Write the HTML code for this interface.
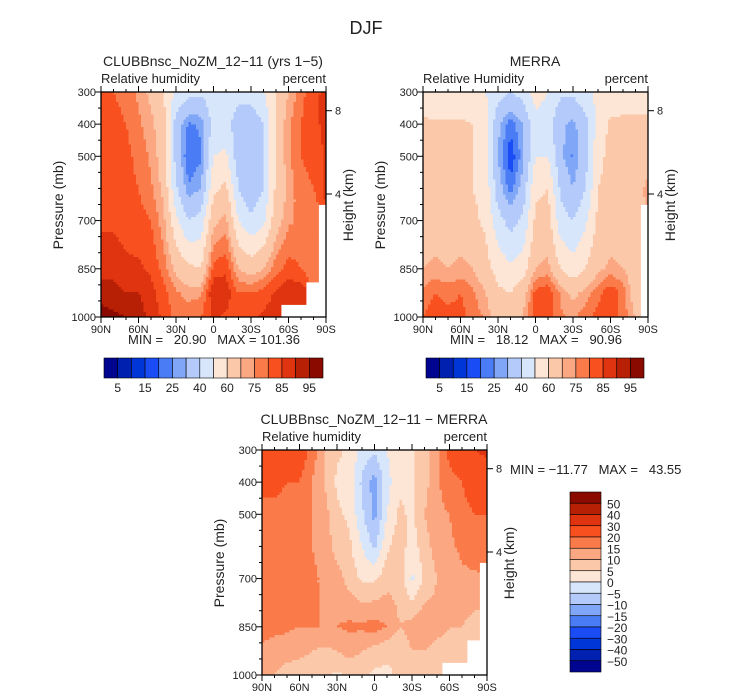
<!DOCTYPE html>
<html><head><meta charset="utf-8">
<style>
html,body{margin:0;padding:0;background:#fff;}
svg{display:block;font-family:"Liberation Sans",sans-serif;fill:#222;}
text{fill:#222;white-space:pre;}
</style></head>
<body>
<svg id="fig" width="733" height="699" viewBox="0 0 733 699">
<text x="366" y="34" font-size="18" text-anchor="middle">DJF</text>
</svg>
<script>
const lats = [90,80,70,60,50,40,30,20,10,0,-10,-20,-30,-40,-50,-60,-70,-80,-90];
const levels = [300,400,500,600,700,850,925,1000];
const pTicks = [300,400,500,700,850,1000];
const latTicks = [90,60,30,0,-30,-60,-90];
const latTickLabels = ['90N','60N','30N','0','30S','60S','90S'];
const N = null;
const clubbRH = [
[82,83,84,83,84,88,93,97],[80,82,83,83,84,88,92,96],[78,80,82,82,83,86,90,95],[74,76,78,80,82,86,90,93],
[68,72,74,76,80,84,87,88],[60,64,66,68,72,78,82,84],[48,36,36,42,52,68,76,78],[44,24,20,26,40,62,73,78],
[42,26,24,30,44,60,74,80],[46,44,50,58,68,82,90,86],[45,44,52,62,72,84,88,84],[44,34,34,40,50,70,80,82],
[46,32,30,32,42,66,80,84],[50,40,38,40,48,70,82,86],[60,62,62,62,66,78,86,88],[70,74,74,72,74,82,90,N],
[78,80,80,78,76,80,88,N],[84,84,82,80,76,76,N,N],[86,86,86,86,N,N,N,N]];
const merraRH = [
[52,62,62,62,64,70,76,80],[50,62,63,63,64,72,80,84],[50,62,63,63,64,70,78,82],[50,62,62,62,64,72,80,82],
[50,60,60,60,62,70,76,78],[50,55,56,57,58,64,70,74],[45,32,30,34,44,56,62,64],[40,22,16,22,36,52,60,64],
[44,30,28,34,42,55,66,70],[55,46,50,58,62,70,82,84],[50,44,50,60,64,72,84,84],[42,32,32,38,44,60,74,76],
[42,28,24,30,40,54,68,74],[48,36,36,40,48,60,72,78],[52,54,58,60,62,68,78,82],[52,62,62,62,64,72,84,84],
[52,63,64,64,65,70,78,78],[50,64,66,66,68,66,64,70],[50,65,66,72,N,N,N,N]];
const diffRH = [
[26,22,18,18,18,17,14,12],[26,22,18,18,17,17,12,10],[25,20,17,17,17,16,12,8],[24,20,18,18,17,15,11,8],
[18,15,15,15,16,15,10,8],[10,10,12,13,14,15,9,6],[6,4,6,8,12,15,10,4],[4,3,4,6,8,16,12,6],
[-2,-6,-4,0,4,16,10,6],[-4,-12,-12,-6,4,17,8,4],[0,-2,0,4,8,15,6,4],[4,4,6,8,8,10,6,6],
[4,4,4,2,-1,12,10,8],[8,8,10,8,6,14,10,8],[14,14,14,12,10,12,8,6],[22,18,15,14,12,10,8,N],
[26,20,18,16,14,10,6,N],[30,24,20,18,14,8,N,N],[32,24,20,18,N,N,N,N]];
const rhLevels = [5,10,15,20,25,30,40,50,60,70,75,80,85,90,95];
const rhLabels = ['5','15','25','40','60','75','85','95'];
const diffLevels = [-50,-40,-30,-20,-15,-10,-5,0,5,10,15,20,30,40,50];
const diffLabels = ['50','40','30','20','15','10','5','0','\u22125','\u221210','\u221215','\u221220','\u221230','\u221240','\u221250'];
const colors = ['#00058f','#0020b0','#0036d8','#1a4cf5','#4a7cf5','#80a6f7','#b3cafa','#d8e6fb','#fde6d6','#fcc8aa','#fba782','#fa7a4a','#f8501e','#e03410','#b82005','#8a0a00'];

const NS='http://www.w3.org/2000/svg';
const svg=document.getElementById('fig');
function el(tag,attrs,parent){const e=document.createElementNS(NS,tag);for(const k in attrs)e.setAttribute(k,attrs[k]);(parent||svg).appendChild(e);return e;}
function txt(x,y,s,size,anchor,parent,rot){const t=el('text',{x:x,y:y,'font-size':size,'text-anchor':anchor||'start'},parent);if(rot)t.setAttribute('transform','rotate(-90 '+x+' '+y+')');t.textContent=s;return t;}
function colorIdx(v,lv){let i=0;while(i<lv.length&&v>=lv[i])i++;return i;}

function panel(cfg){
  const W=225,H=225,x0=cfg.x,y0=cfg.y;
  const g=el('g',{});
  
  
  const xS=lat=>x0+(90-lat)/180*W;
  const yS=p=>y0+(p-300)/700*H;
  const st=2.5, n=Math.round(W/st);
  const data=cfg.data;
  function val(lat,p){
    let i=0;while(i<lats.length-2&&lats[i+1]>lat)i++;
    let j=0;while(j<levels.length-2&&levels[j+1]<p)j++;
    const ti=(lats[i]-lat)/(lats[i]-lats[i+1]);
    const tj=(p-levels[j])/(levels[j+1]-levels[j]);
    const nI=ti<0.5?i:i+1,nJ=tj<0.5?j:j+1;
    if(data[nI][nJ]===null)return null;
    let s=0,w=0;
    [[i,j,(1-ti)*(1-tj)],[i+1,j,ti*(1-tj)],[i,j+1,(1-ti)*tj],[i+1,j+1,ti*tj]].forEach(c=>{const v=data[c[0]][c[1]];if(v!==null){s+=v*c[2];w+=c[2];}});
    return w>0?s/w:null;
  }
  const cg=el('g',{},g);
  
  
  for(let r=0;r<n;r++){
    const p=300+(r+0.5)*st/H*700;
    let run=null,start=0;
    for(let c=0;c<=n;c++){
      let ci=-1;
      if(c<n){const lat=90-(c+0.5)*st/W*180;const v=val(lat,p);ci=v===null?-1:colorIdx(v,cfg.lv);}
      if(c===n||ci!==run){
        if(run!==null&&run>=0){const rc=el('rect',{x:x0+start*st,y:y0+r*st,width:(c-start)*st+0.4,height:st+0.4,fill:colors[run]},cg);
          }
        run=ci;start=c;
      }
    }
  }
  const fr=el('rect',{x:x0,y:y0,width:W,height:H,fill:'none',stroke:'#000','stroke-width':1.3},g);
  
  pTicks.forEach(p=>{el('line',{x1:x0-6,x2:x0,y1:yS(p),y2:yS(p),stroke:'#000'},g);
    const t=txt(x0-5,yS(p)+4,String(p),11,'end',g);});
  for(let p=350;p<1000;p+=50){if(pTicks.indexOf(p)<0)el('line',{x1:x0-3,x2:x0,y1:yS(p),y2:yS(p),stroke:'#000'},g);}
  latTicks.forEach((l,k)=>{el('line',{x1:xS(l),x2:xS(l),y1:y0+H,y2:y0+H+6,stroke:'#000'},g);
    el('line',{x1:xS(l),x2:xS(l),y1:y0,y2:y0-6,stroke:'#000'},g);
    const t=txt(xS(l),y0+H+16,latTickLabels[k],11,'middle',g);});
  for(let l=80;l>-90;l-=10){if(l%30){el('line',{x1:xS(l),x2:xS(l),y1:y0+H,y2:y0+H+3,stroke:'#000'},g);el('line',{x1:xS(l),x2:xS(l),y1:y0,y2:y0-3,stroke:'#000'},g);}}
  [[8,18.7],[4,102]].forEach(h=>{el('line',{x1:x0+W,x2:x0+W+6,y1:y0+h[1],y2:y0+h[1],stroke:'#000'},g);
    const t=txt(x0+W+9,y0+h[1]+4,String(h[0]),11,'start',g);});
  let t;
  t=txt(x0+112,y0-26,cfg.title,14,'middle',g);
  t=txt(x0,y0-9,cfg.sub,13,'start',g);
  t=txt(x0+W,y0-9,'percent',13,'end',g);
  t=txt(x0-38,y0+113,'Pressure (mb)',14,'middle',g,true);
  t=txt(x0+W+27,y0+113,'Height (km)',14,'middle',g,true);
  return g;
}

function hbar(x0,y0,w,h,nm){
  const g=el('g',{});
  const bw=w/16;
  colors.forEach((c,i)=>{const r=el('rect',{x:x0+i*bw,y:y0,width:bw,height:h,fill:c,stroke:'#000','stroke-width':0.6},g);
    });
  rhLabels.forEach((s,k)=>{const t=txt(x0+(2*k+1)*bw,y0+h+14,s,12,'middle',g);});
}
function vbar(x0,y0,w,h,nm){
  const g=el('g',{});
  const bh=h/16;
  colors.slice().reverse().forEach((c,i)=>{const r=el('rect',{x:x0,y:y0+i*bh,width:w,height:bh,fill:c,stroke:'#000','stroke-width':0.6},g);
    });
  diffLabels.forEach((s,k)=>{const t=txt(x0+w+6,y0+(k+1)*bh+5,s,12,'start',g);});
}

panel({x:101,y:92,data:clubbRH,lv:rhLevels,name:'model-panel',title:'CLUBBnsc_NoZM_12\u221211 (yrs 1\u22125)',sub:'Relative humidity'});
panel({x:423,y:92,data:merraRH,lv:rhLevels,name:'merra-panel',title:'MERRA',sub:'Relative Humidity'});
panel({x:262,y:450,data:diffRH,lv:diffLevels,name:'difference-panel',title:'CLUBBnsc_NoZM_12\u221211 \u2212 MERRA',sub:'Relative humidity'});
hbar(104,358,219,20,'model-colorbar');
hbar(426,358,218,20,'merra-colorbar');
vbar(570,492,31,180,'difference-colorbar');
let t;
t=txt(128,344,'MIN =   20.90   MAX = 101.36',13,'start');
t=txt(450,344,'MIN =   18.12   MAX =   90.96',13,'start');
t=txt(510,474,'MIN = \u221211.77   MAX =   43.55',13,'start');
</script>
</body></html>
